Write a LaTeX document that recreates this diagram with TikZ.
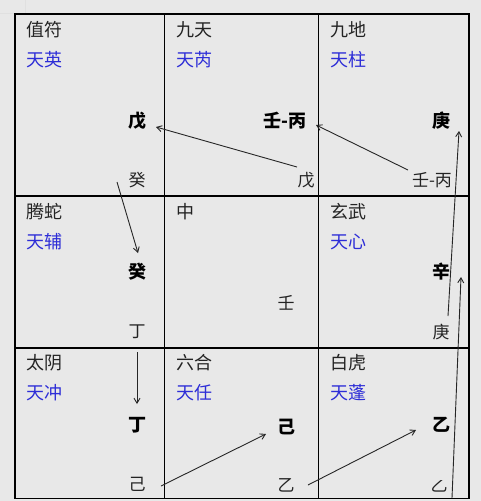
\documentclass[tikz,border=0pt]{standalone}
\usepackage{fontspec}
\newfontfamily\cjk{Noto Sans CJK SC}
\usetikzlibrary{arrows.meta}
\definecolor{bg}{RGB}{232,232,232}
\definecolor{starblue}{RGB}{45,45,215}
\definecolor{ink}{RGB}{35,35,35}
\begin{document}
\begin{tikzpicture}[x=1pt,y=-1pt,
  gridline/.style={line width=1.1pt, draw=black},
  faint/.style={line width=0.8pt, draw=black!12},
  lbl/.style={anchor=west, inner sep=0pt, font=\cjk\fontsize{18}{20}\selectfont, text=ink},
  starlbl/.style={lbl, text=starblue},
  bigstem/.style={inner sep=0pt, font=\cjk\bfseries\fontsize{18}{20}\selectfont, text=black},
  smallstem/.style={inner sep=0pt, font=\cjk\fontsize{17}{19}\selectfont, text=ink},
  arr/.style={line width=0.9pt, draw=black!85, -{Straight Barb[length=5pt,width=6pt,line width=0.9pt]}}
]
\fill[bg] (0,0) rectangle (481,501);
\useasboundingbox (0,0) rectangle (481,501);
% faint spreadsheet remnants
\draw[faint] (25,0) -- (25,13);
\draw[faint] (0,13.5) -- (15,13.5);
% grid
\draw[gridline] (15,14) rectangle (469,498.5);
\draw[gridline] (164.5,14) -- (164.5,498.5);
\draw[gridline] (318.5,14) -- (318.5,498.5);
\draw[gridline] (15,196) -- (469,196);
\draw[gridline] (15,348) -- (469,348);

% row 1 labels
\node[lbl] (g1) at (26,30) {值符};
\node[starlbl] (s1) at (26,60) {天英};
\node[lbl] (g2) at (176,30) {九天};
\node[starlbl] (s2) at (176,60) {天芮};
\node[lbl] (g3) at (330,30) {九地};
\node[starlbl] (s3) at (330,60) {天柱};
% row 2 labels
\node[lbl] (g4) at (26,212) {腾蛇};
\node[starlbl] (s4) at (26,242) {天辅};
\node[lbl] (g5) at (176,212) {中};
\node[lbl] (g6) at (330,212) {玄武};
\node[starlbl] (s6) at (330,242) {天心};
% row 3 labels
\node[lbl] (g7) at (26,363) {太阴};
\node[starlbl] (s7) at (26,393) {天冲};
\node[lbl] (g8) at (176,363) {六合};
\node[starlbl] (s8) at (176,393) {天任};
\node[lbl] (g9) at (330,363) {白虎};
\node[starlbl] (s9) at (330,393) {天蓬};

% stems
\node[bigstem] (b1) at (137.5,121) {戊};
\node[bigstem, anchor=east] (b2) at (307,121) {壬-丙};
\node[bigstem] (b3) at (441,121) {庚};
\node[smallstem] (e1) at (137,180) {癸};
\node[smallstem] (e2) at (306,180) {戊};
\node[smallstem] (e3) at (432,180) {壬-丙};

\node[bigstem] (b4) at (137.5,272) {癸};
\node[smallstem] (e4) at (137,332) {丁};
\node[smallstem] (e5) at (286,303) {壬};
\node[bigstem] (b6) at (441,272) {辛};
\node[smallstem] (e6) at (441,332) {庚};

\node[bigstem] (b7) at (137.5,425) {丁};
\node[smallstem] (e7) at (137,484) {己};
\node[bigstem] (b8) at (286.5,427) {己};
\node[smallstem] (e8) at (286,485) {乙};
\node[bigstem] (b9) at (441,425) {乙};
\begin{scope}
  \clip (425,480.5) rectangle (460,497);
  \node[smallstem] (e9) at (439,485) {乙};
\end{scope}

% arrow end points
\coordinate (a1s) at (297,167);  \coordinate (a1t) at (156,127);
\coordinate (a2s) at (408,170);  \coordinate (a2t) at (316,125);
\coordinate (a3s) at (448,316);  \coordinate (a3t) at (459,131);
\coordinate (a4s) at (452,498);  \coordinate (a4t) at (461,277);
\coordinate (a5s) at (117,182);  \coordinate (a5t) at (138,253);
\coordinate (a6s) at (137,352);  \coordinate (a6t) at (137,404);
\coordinate (a7s) at (161,486);  \coordinate (a7t) at (266,434);
\coordinate (a8s) at (308,485);  \coordinate (a8t) at (416,430);

\draw[arr] (a1s) -- (a1t);
\draw[arr] (a2s) -- (a2t);
\draw[arr] (a3s) -- (a3t);
\draw[arr] (a4s) -- (a4t);
\draw[arr] (a5s) -- (a5t);
\draw[arr] (a6s) -- (a6t);
\draw[arr] (a7s) -- (a7t);
\draw[arr] (a8s) -- (a8t);
\end{tikzpicture}
\end{document}
